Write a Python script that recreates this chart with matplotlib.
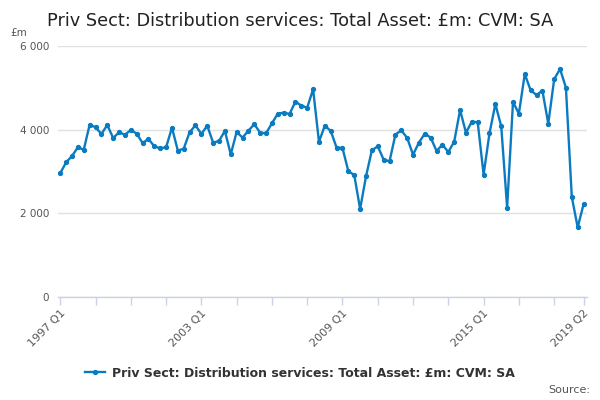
import matplotlib
matplotlib.use("Agg")
import matplotlib.pyplot as plt
from matplotlib.ticker import FuncFormatter

title = "Priv Sect: Distribution services: Total Asset: £m: CVM: SA"
values = [2960, 3220, 3370, 3580, 3520, 4120, 4057, 3897, 4112, 3800,
          3937, 3880, 3992, 3904, 3682, 3777, 3602, 3554, 3578, 4048,
          3498, 3546, 3937, 4104, 3897, 4096, 3690, 3730, 3969, 3410,
          3945, 3810, 3977, 4128, 3929, 3913, 4152, 4383, 4407, 4375,
          4670, 4574, 4525, 4968, 3710, 4096, 3969, 3570, 3562, 3005,
          2917, 2104, 2885, 3506, 3602, 3283, 3243, 3881, 3985, 3801,
          3403, 3690, 3905, 3810, 3490, 3642, 3466, 3714, 4470, 3929,
          4192, 4176, 2925, 3913, 4614, 4080, 2136, 4662, 4383, 5331,
          4940, 4829, 4932, 4144, 5204, 5451, 5004, 2391, 1666, 2216]
quarters = [f"{1997 + i // 4} Q{i % 4 + 1}" for i in range(len(values))]
label_quarters = ["1997 Q1", "2003 Q1", "2009 Q1", "2015 Q1", "2019 Q2"]
yticks = [0, 2000, 4000, 6000]

blue = "#0b7bc1"
fig = plt.figure(figsize=(6, 4), dpi=100)
ax = fig.add_axes([0.096, 0.2575, 0.8815, 0.6275])
x = list(range(len(values)))
ax.plot(x, values, color=blue, lw=1.7, marker="o", ms=2.8,
        label=title)
ax.set_xlim(-0.45, 89.5)
ax.set_ylim(0, 6000)
ax.set_yticks(yticks)
ax.yaxis.set_major_formatter(FuncFormatter(lambda v, p: f"{int(v):,}".replace(",", " ")))
ax.grid(axis="y", color="#e0e0e0", lw=1)
ax.set_axisbelow(True)
for s in ["top", "right", "left"]:
    ax.spines[s].set_visible(False)
ax.spines["bottom"].set_color("#c8d4e6")
ax.spines["bottom"].set_linewidth(1)
ax.tick_params(axis="y", length=0, labelsize=7.5, labelcolor="#555555", pad=6)

minor = list(range(0, len(values), 6))
if (len(values) - 1) not in minor:
    minor.append(len(values) - 1)
ax.set_xticks(minor, minor=True)
major = [quarters.index(q) for q in label_quarters]
ax.set_xticks(major)
ax.set_xticklabels(label_quarters, rotation=45, ha="right", rotation_mode="anchor")
ax.tick_params(axis="x", which="both", length=6, color="#c8d4e6", width=1)
ax.tick_params(axis="x", labelsize=8, labelcolor="#555555", pad=2)

fig.text(0.5, 0.948, title, ha="center", va="center", fontsize=12.8, color="#222222")
fig.text(0.017, 0.918, "£m", ha="left", va="center", fontsize=7.5, color="#555555")
leg = fig.legend(loc="center", bbox_to_anchor=(0.5, 0.067), frameon=False,
                 prop={"size": 9, "weight": "bold"}, handlelength=1.6, handletextpad=0.5)
for t in leg.get_texts():
    t.set_color("#333333")
fig.text(0.983, 0.025, "Source:", ha="right", va="center", fontsize=8, color="#555555")
fig.savefig("out.png", dpi=100)
